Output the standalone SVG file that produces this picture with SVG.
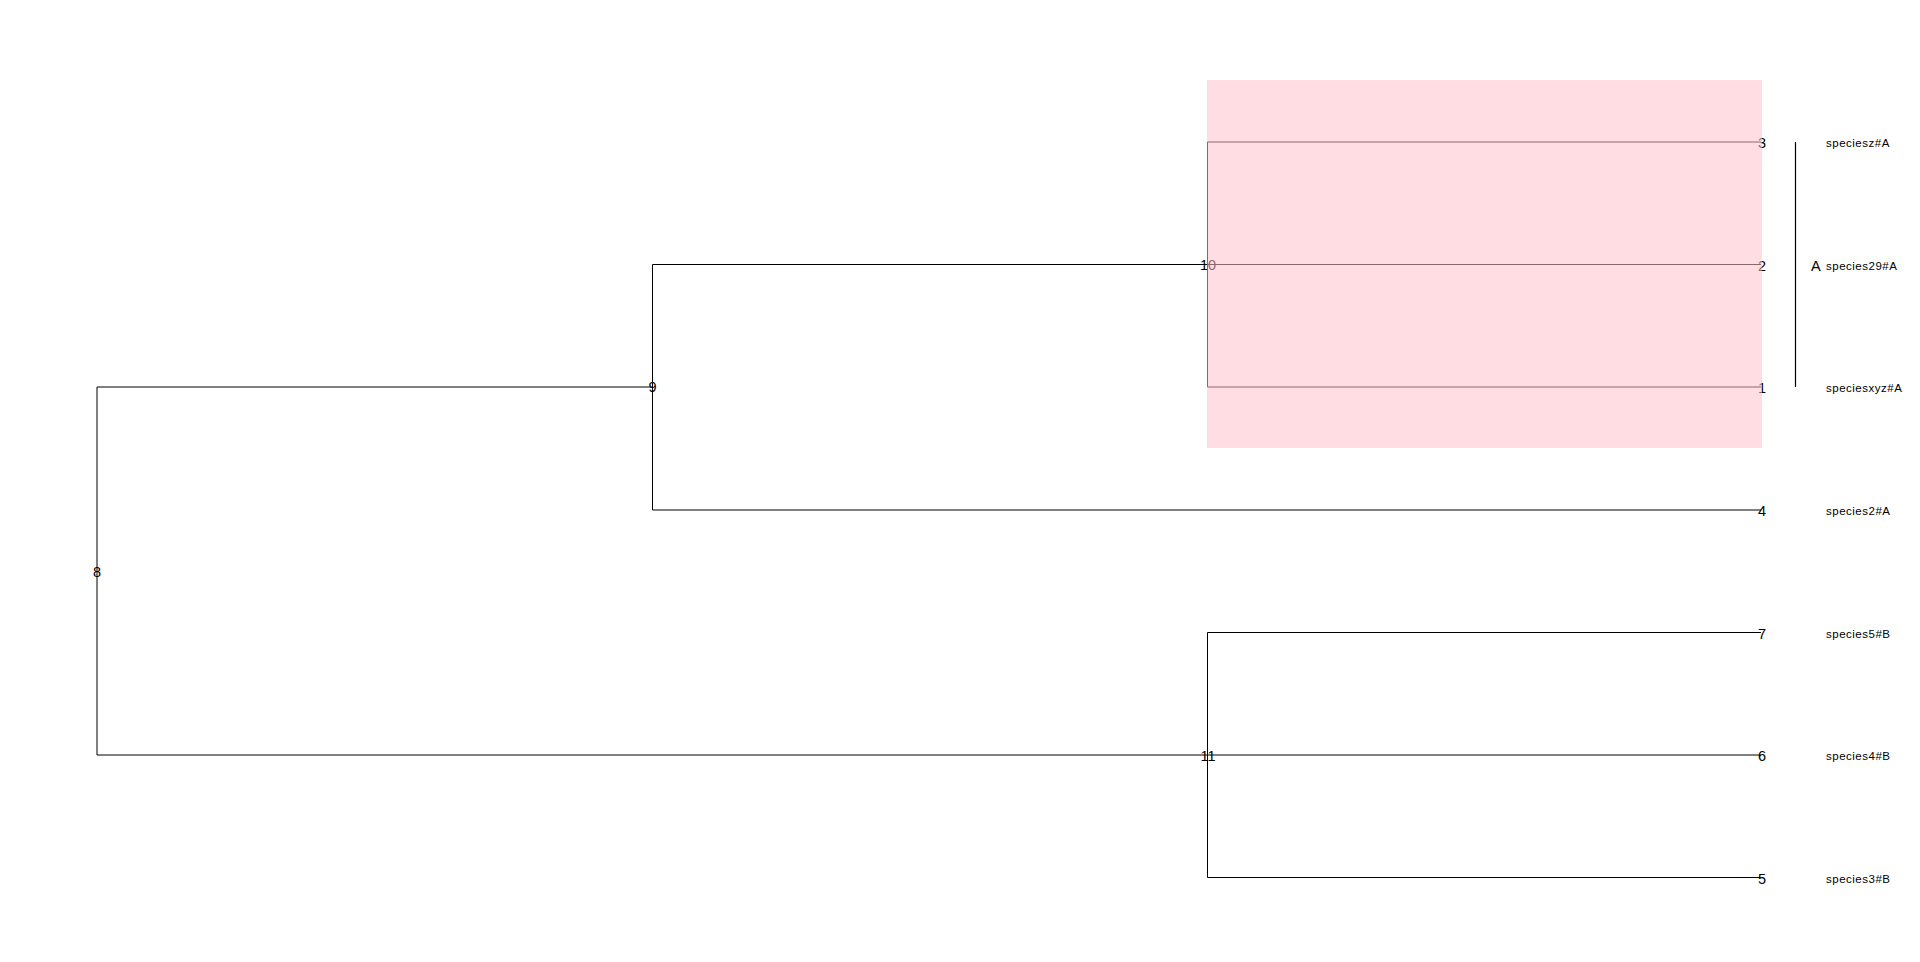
<svg xmlns="http://www.w3.org/2000/svg" width="1920" height="962" viewBox="0 0 1920 962">
<style>
.e{stroke:#000;stroke-width:1;fill:none}
.n{font-family:"Liberation Sans",Arial,sans-serif;font-size:14.5px;fill:#000;text-anchor:middle;dominant-baseline:central}
.l{font-family:"Liberation Sans",Arial,sans-serif;font-size:11.5px;letter-spacing:0.5px;fill:#000;dominant-baseline:central}
</style>
<rect width="1920" height="962" fill="#fff"/>
<g id="edges">
<path class="e" d="M97,387V755M97,387H652.5M97,755H1207.5"/>
<path class="e" d="M652.5,264.5V510M652.5,264.5H1207.5M652.5,510H1761"/>
<path class="e" d="M1207.5,142V387M1207.5,142H1761M1207.5,264.5H1761M1207.5,387H1761"/>
<path class="e" d="M1207.5,632.5V877.5M1207.5,632.5H1761M1207.5,755H1761M1207.5,877.5H1761"/>
</g>
<g id="n8"><text class="n" x="97" y="572">8</text></g>
<g id="n9"><text class="n" x="652.5" y="387">9</text></g>
<g id="n10"><text class="n" x="1208" y="265">10</text></g>
<g id="n11"><text class="n" x="1208" y="756">11</text></g>
<g id="n3"><text class="n" x="1762" y="143">3</text><text class="l" x="1826" y="143">speciesz#A</text></g>
<g id="n2"><text class="n" x="1762" y="265.5">2</text><text class="l" x="1826" y="265.5">species29#A</text></g>
<g id="n1"><text class="n" x="1762" y="388">1</text><text class="l" x="1826" y="388">speciesxyz#A</text></g>
<g id="n4"><text class="n" x="1762" y="510.5">4</text><text class="l" x="1826" y="510.5">species2#A</text></g>
<g id="n7"><text class="n" x="1762" y="633.5">7</text><text class="l" x="1826" y="633.5">species5#B</text></g>
<g id="n6"><text class="n" x="1762" y="756">6</text><text class="l" x="1826" y="756">species4#B</text></g>
<g id="n5"><text class="n" x="1762" y="878.5">5</text><text class="l" x="1826" y="878.5">species3#B</text></g>
<rect id="highlight" x="1207" y="80" width="555" height="368" fill="#ffc0cb" fill-opacity="0.54"/>
<g id="clade">
<line x1="1795.5" y1="142" x2="1795.5" y2="387" stroke="#000" stroke-width="1.2"/>
<text x="1811" y="266" font-family="'Liberation Sans',Arial,sans-serif" font-size="14.5" dominant-baseline="central">A</text>
</g>
</svg>
